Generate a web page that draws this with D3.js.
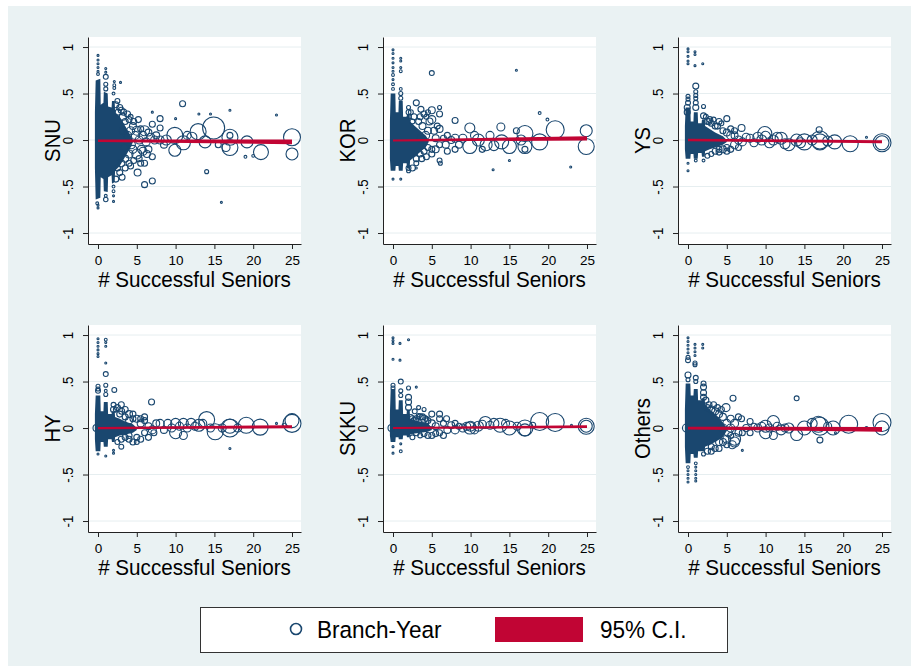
<!DOCTYPE html>
<html>
<head>
<meta charset="utf-8">
<script src="https://cdn.jsdelivr.net/npm/d3@7"></script>
<style>
body { margin: 0; background: #fff; }
text { font-family: "Liberation Sans", Arial, sans-serif; fill: #000; }
</style>
</head>
<body>
<svg id="svg" width="911" height="666"></svg>
<script>
// panel names (y titles) and axis ticks
const panels = ['SNU', 'KOR', 'YS', 'HY', 'SKKU', 'Others'];
const xTicks = [0, 5, 10, 15, 20, 25];
const yTicks = [-1, -0.5, 0, 0.5, 1];
const yTickLabels = ['-1', '-.5', '0', '.5', '1'];
const xTitle = '# Successful Seniors';
const legendLabels = ['Branch-Year', '95% C.I.'];

// dense core of overlapping points, read as envelope [x, top, bottom]
const coreSNU = [[-0.4,0.3,-0.3],[-0.3,0.64,-0.64],[0.3,0.66,-0.62],[0.35,0.38,-0.4],[0.7,0.4,-0.42],[0.75,0.52,-0.55],[1.25,0.5,-0.56],[1.3,0.36,-0.4],[1.75,0.35,-0.38],[1.8,0.42,-0.47],[2.15,0.42,-0.45],[2.2,0.3,-0.33],[2.8,0.25,-0.28],[3.5,0.15,-0.18],[4.2,0.05,-0.08],[4.5,0,-0.02]];
const coreKOR = [[-0.4,0.2,-0.2],[-0.3,0.5,-0.33],[0.3,0.5,-0.33],[0.35,0.3,-0.28],[0.7,0.3,-0.28],[0.75,0.42,-0.33],[1.25,0.42,-0.33],[1.3,0.25,-0.25],[1.75,0.25,-0.25],[1.8,0.27,-0.3],[2.15,0.27,-0.3],[2.2,0.2,-0.22],[2.8,0.15,-0.18],[3.5,0.1,-0.13],[4.2,0.05,-0.08],[4.6,0,-0.02]];
const coreYS = [[-0.4,0.15,-0.1],[-0.3,0.35,-0.2],[0.3,0.35,-0.2],[0.35,0.2,-0.15],[0.7,0.2,-0.15],[0.75,0.3,-0.2],[1.25,0.3,-0.2],[1.3,0.18,-0.14],[1.75,0.18,-0.14],[1.8,0.22,-0.18],[2.15,0.22,-0.18],[2.2,0.15,-0.12],[2.8,0.12,-0.1],[3.5,0.08,-0.08],[4.5,0.04,-0.05],[5,0,-0.02]];
const coreHY = [[-0.4,0.15,-0.12],[-0.3,0.35,-0.25],[0.3,0.35,-0.25],[0.35,0.18,-0.15],[0.7,0.18,-0.15],[0.75,0.28,-0.2],[1.25,0.28,-0.2],[1.3,0.15,-0.12],[1.75,0.15,-0.12],[1.8,0.18,-0.15],[2.15,0.18,-0.15],[2.2,0.12,-0.1],[2.8,0.1,-0.08],[3.5,0.07,-0.07],[4.5,0.04,-0.05],[5,0,-0.02]];
const coreSKKU = [[-0.4,0.15,-0.08],[-0.3,0.42,-0.15],[0.3,0.42,-0.15],[0.35,0.2,-0.1],[0.7,0.2,-0.1],[0.75,0.3,-0.12],[1.25,0.3,-0.12],[1.3,0.15,-0.08],[1.75,0.15,-0.08],[1.8,0.2,-0.1],[2.15,0.2,-0.1],[2.2,0.1,-0.07],[2.8,0.08,-0.06],[3.5,0.07,-0.05],[4.5,0.05,-0.04],[5,0,-0.02]];
const coreOth = [[-0.4,0.2,-0.2],[-0.3,0.48,-0.38],[0.3,0.48,-0.38],[0.35,0.35,-0.28],[0.7,0.35,-0.28],[0.75,0.42,-0.32],[1.25,0.42,-0.32],[1.3,0.3,-0.25],[1.75,0.3,-0.25],[1.8,0.32,-0.25],[2.15,0.32,-0.25],[2.2,0.25,-0.2],[2.8,0.2,-0.18],[3.5,0.15,-0.15],[4.5,0.06,-0.1],[5,0,-0.03]];

// branch-year points [x, y, weight]
const ptsSNU = [[0,0.91,1],[0,0.86,1],[0,0.82,1],[0,0.78,1],[0,0.74,1],[0,0.71,2],[0,-0.7,1],[0,-0.73,1],[-0.1,-0.68,2],
  [1,0.77,1],[1,0.73,1],[1,0.68,6],[1,0.6,4],[1,0.55,4],[1,-0.6,2],[1,-0.64,5],
  [2.1,0.63,1],[2.1,0.59,2],[2.1,0.56,2],[2,0.5,2],[2,-0.5,2],[2,-0.55,2],[2,-0.6,1],[2,-0.66,1],[2.9,0.62,1],
  [2.3,0.38,9],[2.5,0.42,6],[2.8,0.35,9],[3.3,0.3,9],[3.8,0.28,9],[4.2,0.25,6],[4.6,0.2,9],[5.2,0.22,9],[2.3,-0.42,9],[2.8,-0.35,9],[3.5,-0.3,9],[4,-0.25,9],[4.6,-0.22,9],[5.5,-0.25,9],[3.8,0.05,16],[4.3,-0.05,16],[3.2,0.1,12],[3.4,-0.08,12],[5.8,-0.12,16],[6.5,-0.1,12],[7.3,0,16],[6.8,0.03,16],
  [2.6,0.3,9],[3,0.32,9],[3.2,0.25,12],[3.5,0.2,9],[4,0.22,9],[4.2,0.1,16],[4.5,0.15,12],[4.8,0.05,16],[5,0.1,20],[5.3,0,16],[5.5,0.12,9],[5.8,0.05,16],[6,0.1,25],[6.2,-0.02,16],[6.5,0.08,12],
  [2.5,-0.3,9],[3,-0.25,12],[3.1,-0.4,9],[3.5,-0.2,12],[4,-0.15,16],[4.2,-0.28,9],[4.5,-0.1,16],[5,-0.15,25],[5.1,-0.35,12],[5.3,-0.2,9],[5.6,-0.1,16],[6,-0.25,9],[6,-0.48,9],[6.3,-0.15,12],[7,-0.18,9],[7,-0.44,9],
  [7,0.17,9],[7,0.3,1],[7.5,0.05,12],[8,0.23,9],[8,0.13,9],[8,0,16],[8.5,-0.05,12],[8.8,0,25],[9.9,0.05,64],[9.9,-0.11,36],[10,0.23,1],[10.9,0.39,9],[11,-0.03,49],[11.5,0.05,16],[12.1,0.03,25],[12.9,0.09,64],[13,0.28,1],[13.8,-0.02,36],[14,-0.34,4],[14.5,0.28,1],[14.9,0.13,121],[15.5,-0.05,9],[15.9,-0.67,1],[16.5,-0.08,16],[17,0.03,64],[17,-0.08,64],[17,0.05,9],[17,0.32,1],[19.2,-0.02,36],[19,-0.18,2],[20,-0.17,2],[21,-0.13,56],[23,0.27,1],[25,0.03,72],[25,-0.15,36]];
const ptsKOR = [[0,0.97,1],[0,0.93,1],[0,0.88,1],[0,0.83,1],[0,0.78,1],[0,0.74,1],[0,0.7,2],[0,0.65,1],[0,0.6,2],[0,0.55,2],[0,-0.42,1],
  [1,0.88,1],[1,0.85,1],[1,0.78,1],[1,0.74,2],[1,0.55,2],[1,0.5,4],[1,0.45,4],[1,-0.42,1],
  [2,0.35,4],[2,0.3,6],[2,-0.3,6],[2,-0.33,4],[2.1,0.25,4],[2.5,0.2,6],
  [2.3,0.3,6],[2.7,0.25,9],[3.3,0.2,9],[3.6,0.33,9],[4.3,0.25,6],[2.5,-0.3,9],[3,-0.25,6],[3.7,-0.2,9],[4.3,-0.18,9],[5,-0.15,9],[5.5,-0.1,12],[4.5,0.3,6],[5.7,0.15,9],[3.6,0.02,16],[6.8,-0.05,12],[7.5,0,12],
  [3,0.4,9],[3.5,0.25,9],[3.8,0.15,12],[4,0.28,9],[4.2,0.05,16],[4.5,0.1,12],[4.7,0.2,12],[5,0.32,12],[5,0.72,6],[5,0.22,16],[5.3,0.1,12],[5.5,0.02,12],[6,0.35,4],[6,0.28,9],[6,0.12,12],[6,-0.05,9],[6,-0.22,6],[6.1,-0.25,4],[6.5,0.02,9],[7,-0.12,9],[7,0.05,9],[3,-0.2,9],[3.5,-0.15,9],[4,-0.12,9],[4.5,-0.08,9],[5,-0.1,9],[3,-0.3,1],
  [8,0.21,9],[8,0.02,16],[8,-0.1,9],[8.5,-0.05,12],[9,0.02,16],[9.9,0.13,25],[9.9,-0.07,49],[10.5,0.05,16],[11,0,36],[11.5,-0.1,9],[12,-0.05,36],[12.5,0.05,16],[13,-0.06,25],[12.9,-0.32,1],[13.9,0.14,16],[14,-0.02,49],[15,-0.07,49],[15,-0.22,1],[15.9,0.1,9],[15.9,0.75,1],[16.5,0,25],[17,0.07,64],[17,-0.07,49],[17,-0.1,9],[18.9,-0.02,64],[18.9,0.29,2],[19.9,0.22,2],[20.9,0.11,81],[22.9,-0.29,1],[24.9,0.1,36],[24.9,-0.07,64]];
const ptsYS = [[0,0.98,1],[0,0.95,1],[0,0.9,1],[0,0.85,1],[0,0.82,1],[0,0.47,4],[0,0.44,4],[0,0.4,6],[-0.1,0.35,9],[-0.1,0.3,9],[0,-0.25,1],[0,-0.33,1],
  [0.9,0.95,1],[0.9,0.92,1],[0.9,0.8,1],[1,0.58,9],[1,0.52,4],[1,0.48,4],[1,0.45,4],[1,0.4,6],[1,0.35,9],[1,-0.22,2],
  [1.9,0.82,1],[2,0.36,4],[2,0.26,9],[2,-0.22,2],[2.5,0.2,9],
  [2.3,0.25,6],[2.7,0.2,9],[3.3,0.22,6],[3.8,0.15,9],[4.3,0.18,6],[2.5,-0.17,6],[3,-0.15,6],[4,-0.13,9],[5,-0.12,9],[6,0.05,12],[5.5,0.12,9],[6.5,-0.08,9],[7.5,0.03,16],
  [2.8,0.22,9],[3,0.18,9],[3.5,0.15,9],[4,0.2,9],[4.5,0.1,9],[5,0.23,9],[5,0.08,12],[5.5,0.05,16],[6,0.1,9],[6,-0.05,16],[6.5,0,16],[6.9,0.13,12],[7,-0.02,16],[3.5,-0.12,9],[4,-0.1,9],[4.5,-0.1,12],[5,-0.08,9],[5.5,-0.1,9],
  [8,0.02,16],[8.5,-0.03,16],[9,0.03,25],[9.5,0,25],[9.9,0.07,49],[10,0.04,25],[10.5,-0.03,25],[11,0,25],[11.5,0.03,25],[12,0.02,36],[12.5,-0.04,25],[13,-0.05,36],[14,0,36],[14.5,-0.03,25],[15,-0.02,64],[16,0,25],[16.9,0.11,9],[17,0,81],[17,-0.02,64],[18,-0.01,25],[18.9,-0.02,49],[20.9,-0.04,64],[23,0.03,1],[25,-0.03,81],[25,-0.03,49]];
const ptsHY = [[0,0.96,1],[0,0.92,1],[0,0.88,1],[0,0.84,1],[0,0.8,1],[0,0.77,1],[0,0.45,4],[0,0.42,4],[0,0.4,6],[-0.2,0,12],[0,-0.28,1],
  [1,0.95,2],[1,0.92,1],[1,0.88,1],[1,0.7,1],[1,0.58,6],[1,0.46,4],[1,0.4,2],[1,0.36,4],[1,-0.3,1],
  [2.1,0.41,6],[2,0.25,6],[2,0.2,9],[2,-0.27,1],[2,-0.24,1],
  [2.3,0.2,6],[2.8,0.15,9],[3.5,0.2,9],[4.5,0.15,9],[2.5,-0.15,6],[3,-0.2,6],[4,-0.12,9],[5,-0.15,6],[6,0.12,9],[5.5,0.1,9],[6.5,-0.1,9],[7.5,0.05,12],
  [2.5,0.22,9],[3,0.25,9],[3.05,0.18,9],[3.5,0.12,9],[4,0.15,12],[4,0.08,12],[4.5,0.1,9],[5,0.1,12],[5.5,0.05,12],[6,0.08,9],[6,-0.05,9],[6.5,0.02,12],[6.9,0.28,9],[7,-0.02,16],[7.2,-0.05,9],[3,-0.12,9],[3.5,-0.1,9],[4,-0.08,9],[4.5,-0.15,9],[5,-0.1,9],[5.5,-0.12,9],
  [8,0.05,16],[8.5,-0.02,12],[9,0.05,16],[9.5,0,16],[10,0.05,25],[10,-0.05,36],[10.5,0.02,16],[11,0.05,25],[11,-0.08,16],[11.5,0,16],[12,0.05,25],[12.5,0.02,16],[13,0.03,36],[13.5,0.05,16],[14,0.09,64],[14.5,0,16],[15.1,-0.04,64],[16,0,16],[17,0,81],[17,0.02,49],[17,-0.22,1],[18,0,16],[19.1,0.03,64],[20.9,0.01,64],[23,0.05,1],[24,0.03,4],[25,0.08,49],[25,0.05,81]];
const ptsSKKU = [[0,0.97,1],[0,0.94,1],[0,0.91,1],[0,0.74,1],[0,0.46,4],[0,0.43,4],[0,-0.2,1],[0,-0.27,1],[-0.2,0,12],
  [0.9,0.91,1],[0.9,0.73,1],[1,0.5,6],[1,0.4,4],[1,0.35,4],[1,-0.25,2],[1,-0.17,1],
  [2,0.95,1],[2,0.43,4],[2,0.33,9],[2,0.28,9],[2,0.22,9],[3,0.44,1],
  [2.3,0.12,6],[2.7,0.08,9],[3.3,0.13,6],[3.8,0.12,9],[4.3,0.1,6],[2.5,-0.1,6],[3.5,-0.08,6],[4.5,-0.08,9],[5.5,-0.06,9],[6,0.15,9],[6.5,-0.08,9],[7.5,0.03,12],[2.8,0.18,6],[3.3,0.22,4],[4,0.2,4],
  [2.5,0.1,9],[3,0.1,9],[3.5,0.12,9],[4,0.1,12],[4.5,0.08,9],[5,0.15,9],[5,0.05,12],[5.5,0.02,12],[6,0.1,9],[6,-0.05,9],[6.5,0.05,9],[6.9,0.1,9],[7,-0.02,12],[3,-0.05,9],[4,-0.06,9],[5,-0.08,9],
  [8,0.05,9],[8,-0.02,16],[8.5,0.02,9],[9,0,16],[9.5,0.02,16],[9.9,0,36],[10,0.02,25],[10.5,-0.02,16],[11,0.02,25],[11.5,0.04,16],[11.9,0.06,36],[12.5,0.03,16],[13,0.05,25],[13.8,0.03,49],[14.5,0.05,16],[15,0,49],[16,0.02,16],[17,0,64],[17,-0.02,36],[18,0.03,9],[18.9,0.07,81],[20.9,0.06,81],[23,0.03,1],[24.9,0.02,64],[24.9,0.02,36]];
const ptsOth = [[0,0.97,1],[0,0.93,1],[0,0.89,1],[0,0.85,1],[0,0.81,1],[0,0.76,4],[0,0.73,6],[0,0.57,9],[0,0.52,4],[0,-0.42,2],[0,-0.46,1],[0,-0.5,1],[0,-0.54,1],[0,-0.58,1],[-0.2,0,16],
  [0.9,0.9,1],[0.9,0.86,1],[0.9,0.82,1],[0.9,0.78,1],[0.9,0.7,4],[0.9,0.68,4],[1,0.54,6],[1,0.5,4],[1,-0.38,2],[1,-0.42,1],[1,-0.46,1],[1,-0.5,1],[1,-0.54,1],[1,-0.57,1],
  [1.9,0.9,1],[1.9,0.86,1],[2,0.48,6],[2,0.44,9],[2,0.38,9],[2,0.33,9],[2,-0.28,4],
  [2.3,0.3,9],[2.7,0.25,9],[3.3,0.25,9],[3.8,0.22,9],[4.3,0.2,9],[2.5,-0.25,9],[3,-0.25,9],[4,-0.22,9],[5,-0.18,9],[5.5,0.1,12],[5.7,-0.18,16],[6.5,0.12,9],[7.5,0,12],[4.5,0,16],[5.2,-0.05,16],
  [2.5,0.22,9],[3,0.2,12],[3.5,0.18,12],[4,0.15,12],[4.5,0.12,12],[4.9,0.22,16],[5,0.05,16],[5.5,0,16],[5.8,0.32,9],[6,0.05,16],[6,-0.12,36],[6,-0.15,25],[6.5,-0.05,12],[6.9,0.1,9],[7,-0.24,1],[7,-0.05,9],[3,-0.2,9],[3.5,-0.22,9],[4,-0.15,12],[4.5,-0.15,12],[5,-0.12,16],[5.5,-0.08,9],
  [8,0.07,9],[8,-0.05,9],[8.5,0.02,9],[9,0,16],[9.5,0.02,16],[10,0.02,36],[10,-0.05,36],[10.5,0,16],[11,0.07,36],[11,-0.08,16],[11.5,0.02,16],[12,-0.02,25],[12.5,0,16],[13,0,25],[14,-0.07,36],[14,0.32,6],[15,0,49],[16,0.05,25],[16.8,0.04,64],[17,0.02,81],[17,-0.13,9],[18,0.02,16],[18.7,0,49],[19,-0.05,1],[20.7,0.04,81],[23,0,2],[25,0.06,81],[25,0,49]];

// 95% confidence band [x, upper, lower]
const ciSNU = [[0,0.007,-0.022],[25,0.005,-0.045]];
const ciKOR = [[0,0.007,-0.015],[25,0.04,-0.005]];
const ciYS = [[0,0.013,-0.013],[25,-0.002,-0.035]];
const ciHY = [[0,0.012,-0.012],[25,0.03,-0.002]];
const ciSKKU = [[0,0.012,-0.01],[25,0.03,0]];
const ciOth = [[0,0.015,-0.015],[25,0.012,-0.04]];

const cores = [coreSNU, coreKOR, coreYS, coreHY, coreSKKU, coreOth];
const points = [ptsSNU, ptsKOR, ptsYS, ptsHY, ptsSKKU, ptsOth];
const cis = [ciSNU, ciKOR, ciYS, ciHY, ciSKKU, ciOth];

const navy = '#1a476f', red = '#c10534', bg = '#eaf2f3';
const pw = 213, ph = 207;
const colX = [88, 383, 678], rowY = [37, 325];

// Stata text is a bit narrower than Arial: squeeze glyphs horizontally
function squeeze(sel, k) {
  sel.each(function() {
    const len = this.getComputedTextLength();
    d3.select(this).attr('textLength', len * k).attr('lengthAdjust', 'spacingAndGlyphs');
  });
}

const svg = d3.select('#svg');
svg.append('rect').attr('x', 8).attr('y', 6).attr('width', 903).attr('height', 660).attr('fill', bg);

const x = d3.scaleLinear().domain([-1.29, 26.16]).range([0, pw]);
const y = d3.scaleLinear().domain([-1.118, 1.108]).range([ph, 0]);
const r = d3.scaleSqrt().domain([0, 100]).range([0, 10]);
const band = d3.area().x(d => x(d[0])).y0(d => y(d[2])).y1(d => y(d[1]));

panels.forEach((name, i) => {
  const g = svg.append('g')
    .attr('transform', `translate(${colX[i % 3]},${rowY[Math.floor(i / 3)]})`);

  g.append('rect').attr('width', pw).attr('height', ph).attr('fill', '#fff');

  g.selectAll('line.grid')
    .data(yTicks)
    .enter().append('line')
    .attr('class', 'grid')
    .attr('x1', 0).attr('x2', pw)
    .attr('y1', d => y(d)).attr('y2', d => y(d))
    .attr('stroke', '#e6eef0');

  g.append('path').datum(cores[i]).attr('d', band).attr('fill', navy);

  g.selectAll('circle')
    .data(points[i])
    .enter().append('circle')
    .attr('cx', d => x(d[0]))
    .attr('cy', d => y(d[1]))
    .attr('r', d => r(d[2]))
    .attr('fill', 'none')
    .attr('stroke', navy)
    .attr('stroke-width', 1.1);

  g.append('path').datum(cis[i]).attr('d', band).attr('fill', red);

  // axes
  const ay = g.append('g')
    .call(d3.axisLeft(y).tickValues(yTicks).tickSize(5).tickSizeOuter(0)
      .tickFormat((d, j) => yTickLabels[j]))
    .attr('color', '#222')
    .attr('font-size', 14)
    .attr('font-family', '"Liberation Sans", Arial, sans-serif');
  ay.selectAll('text')
    .attr('transform', 'rotate(-90)')
    .attr('x', 0).attr('y', -15).attr('dy', 0)
    .attr('text-anchor', 'middle')
    .attr('fill', '#000');
  squeeze(ay.selectAll('text'), 0.95);

  const axb = g.append('g')
    .attr('transform', `translate(0,${ph})`)
    .call(d3.axisBottom(x).tickValues(xTicks).tickSize(5).tickSizeOuter(0))
    .attr('color', '#222')
    .attr('font-size', 13.5)
    .attr('font-family', '"Liberation Sans", Arial, sans-serif');
  axb.selectAll('text').attr('y', 20.5).attr('dy', 0).attr('fill', '#000');

  const xt = g.append('text')
    .attr('x', pw / 2).attr('y', ph + 43)
    .attr('text-anchor', 'middle')
    .style('font-size', '21.5px')
    .text(xTitle);
  squeeze(xt, 0.96);

  const yt = g.append('text')
    .attr('transform', 'rotate(-90)')
    .attr('x', -ph / 2).attr('y', -28.5)
    .attr('text-anchor', 'middle')
    .style('font-size', '22.5px')
    .text(name);
  squeeze(yt, 0.9);
});

// legend
const lg = svg.append('g');
lg.append('rect').attr('x', 200.5).attr('y', 607.5).attr('width', 527).attr('height', 45)
  .attr('fill', '#fff').attr('stroke', '#333');
lg.append('circle').attr('cx', 296).attr('cy', 629).attr('r', 5.5)
  .attr('fill', 'none').attr('stroke', navy).attr('stroke-width', 1.6);
const lt1 = lg.append('text').attr('x', 317).attr('y', 637.5).style('font-size', '24.5px').text(legendLabels[0]);
lg.append('rect').attr('x', 495).attr('y', 617).attr('width', 88).attr('height', 25).attr('fill', red);
const lt2 = lg.append('text').attr('x', 600).attr('y', 637.5).style('font-size', '24.5px').text(legendLabels[1]);
squeeze(lt1, 0.92);
squeeze(lt2, 0.92);
</script>
</body>
</html>
